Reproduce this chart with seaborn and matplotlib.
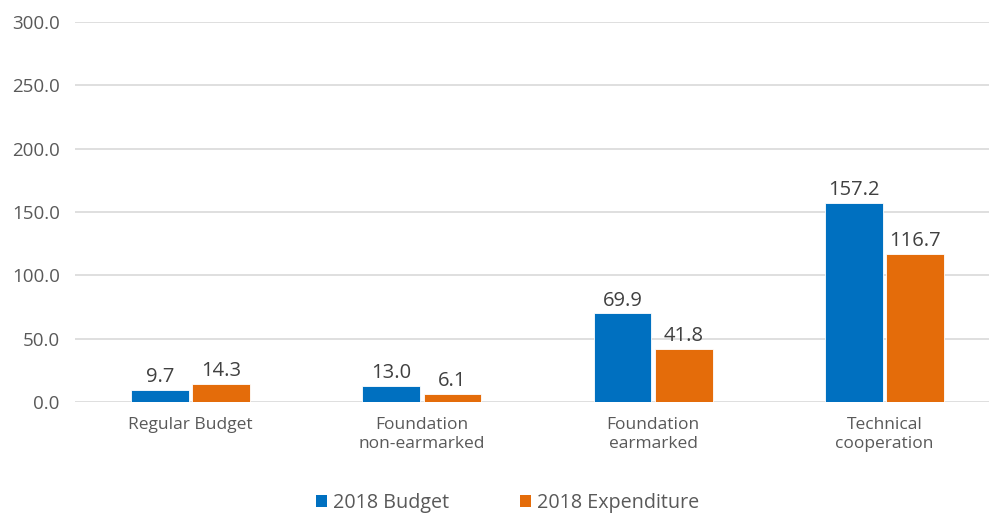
import matplotlib
matplotlib.use("Agg")
import matplotlib.pyplot as plt
from matplotlib.patches import Patch
import seaborn as sns
import pandas as pd

categories = ["Regular Budget", "Foundation\nnon-earmarked", "Foundation\nearmarked", "Technical\ncooperation"]
series_names = ["2018 Budget", "2018 Expenditure"]
budget = [9.7, 13.0, 69.9, 157.2]
expenditure = [14.3, 6.1, 41.8, 116.7]
y_ticks = [0, 50, 100, 150, 200, 250, 300]
colors = ["#0070C0", "#E46C0A"]

sns.set_theme(style="white")
plt.rcParams["font.family"] = ["Open Sans", "DejaVu Sans"]
text_color = "#595959"
value_color = "#404040"

df = pd.DataFrame({
    "category": categories * 2,
    "series": [series_names[0]] * 4 + [series_names[1]] * 4,
    "value": budget + expenditure,
})

fig = plt.figure(figsize=(9.89, 5.15), dpi=100)
ax = fig.add_axes([75 / 989, 113 / 515, 925 / 989, 380 / 515])

sns.barplot(data=df, x="category", y="value", hue="series", order=categories,
            hue_order=series_names, palette=colors, saturation=1, width=0.53, gap=0.06,
            edgecolor="white", linewidth=0.6, legend=False, ax=ax, zorder=3)

for container in ax.containers:
    ax.bar_label(container, fmt="%.1f", padding=2, fontsize=14.5, color=value_color)

ax.set_ylim(0, 300)
ax.set_xlim(-0.5, 3.5)
ax.set_yticks(y_ticks)
ax.set_yticklabels([f"{v:.1f}" for v in y_ticks], fontsize=13.5, color=text_color)
ax.tick_params(axis="x", labelsize=12.5, labelcolor=text_color, pad=11, length=0)
ax.tick_params(axis="y", pad=11, length=0)
ax.set_xlabel("")
ax.set_ylabel("")
ax.yaxis.grid(True, color="#d9d9d9", linewidth=1.2, zorder=0)
ax.set_axisbelow(True)
for s in ax.spines.values():
    s.set_visible(False)

handles = [Patch(facecolor=c, edgecolor="none") for c in colors]
fig.legend(handles, series_names, loc="center", bbox_to_anchor=(0.513, 0.024), ncol=2,
           frameon=False, fontsize=14.2, handlelength=0.55, handleheight=0.55,
           handletextpad=0.3, columnspacing=3.6, labelcolor=text_color)

fig.savefig("out.png", dpi=100)
